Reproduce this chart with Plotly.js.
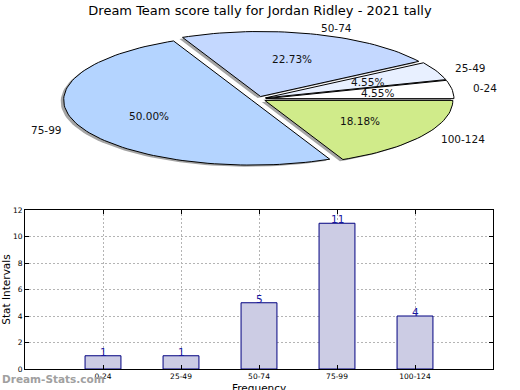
<!DOCTYPE html>
<html>
<head>
<meta charset="utf-8">
<script src="https://cdn.plot.ly/plotly-3.0.1.min.js"></script>
<style>html,body{margin:0;padding:0;background:#fff;}#chart{width:520px;height:390px;}</style>
</head>
<body>
<div id="chart"></div>
<script>
// ---- data ----
const categories = ['0-24', '25-49', '50-74', '75-99', '100-124'];
const counts = [1, 1, 5, 11, 4];
const pieColors = ['#ffffff', '#e8f0ff', '#c4d8ff', '#b4d4ff', '#d0eb8a'];
const yTickVals = [0, 2, 4, 6, 8, 10, 12];

const titleText = 'Dream Team score tally for Jordan Ridley - 2021 tally';
const xTitle = 'Frequency';
const yTitle = 'Stat Intervals';
const font = 'DejaVu Sans, sans-serif';

// ---- pie geometry (layout constants, pixel space of xaxis2/yaxis2) ----
const CX = 258.5, CY = 99, RX = 188, RY = 65, EXPLODE = 0.04;
const SHX = -3, SHY = 1.6;

const total = counts.reduce((a, b) => a + b, 0);
const shadowTraces = [];
const sliceTraces = [];
const annotations = [];
let start = 0;
counts.forEach((v, i) => {
  const frac = v / total;
  const a1 = start * 360, a2 = (start + frac) * 360;
  start += frac;
  const am = (a1 + a2) / 2 * Math.PI / 180;
  const ox = CX + EXPLODE * RX * Math.cos(am);
  const oy = CY - EXPLODE * RY * Math.sin(am);
  const xs = [ox], ys = [oy];
  const n = Math.max(4, Math.ceil((a2 - a1) / 2));
  for (let k = 0; k <= n; k++) {
    const t = (a1 + (a2 - a1) * k / n) * Math.PI / 180;
    xs.push(ox + RX * Math.cos(t));
    ys.push(oy - RY * Math.sin(t));
  }
  xs.push(ox); ys.push(oy);
  shadowTraces.push({
    type: 'scatter', mode: 'lines', xaxis: 'x2', yaxis: 'y2',
    x: xs.map(p => p + SHX), y: ys.map(p => p + SHY),
    fill: 'toself', fillcolor: 'rgba(90,90,90,0.55)',
    line: {width: 0, color: 'rgba(0,0,0,0)'}, hoverinfo: 'skip', showlegend: false
  });
  sliceTraces.push({
    type: 'scatter', mode: 'lines', xaxis: 'x2', yaxis: 'y2',
    x: xs, y: ys, name: categories[i],
    fill: 'toself', fillcolor: pieColors[i],
    line: {width: 1, color: '#000000'}, hoverinfo: 'skip', showlegend: false
  });
  const c = Math.cos(am), s = Math.sin(am);
  annotations.push({
    xref: 'x2', yref: 'y2', x: ox + 1.1 * RX * c, y: oy - 1.1 * RY * s,
    text: categories[i], showarrow: false,
    xanchor: c >= 0 ? 'left' : 'right', yanchor: 'middle',
    font: {family: font, size: 10.5, color: '#111'}
  });
  annotations.push({
    xref: 'x2', yref: 'y2', x: ox + 0.6 * RX * c, y: oy - 0.6 * RY * s,
    text: (frac * 100).toFixed(2) + '%', showarrow: false,
    xanchor: 'center', yanchor: 'middle',
    font: {family: font, size: 10.5, color: '#111'}
  });
});

// bar value labels, sitting directly on top of each bar
categories.forEach((cat, i) => {
  annotations.push({
    xref: 'x', yref: 'y', x: cat, y: counts[i], text: String(counts[i]),
    showarrow: false, xanchor: 'center', yanchor: 'bottom', yshift: -4,
    font: {family: font, size: 10.5, color: '#1818a0'}
  });
});

const bars = {
  type: 'bar', x: categories, y: counts, width: 0.46,
  marker: {color: '#ccccE4', line: {color: '#000080', width: 1}},
  cliponaxis: false, hoverinfo: 'skip', showlegend: false
};

// x-axis title (placed below tick labels, partly clipped by the canvas edge as in the reference)
annotations.push({
  xref: 'paper', yref: 'paper', x: 0.5 * (25 + 493) / 520, y: (390 - 380) / 390,
  xanchor: 'center', yanchor: 'top', text: xTitle, showarrow: false,
  font: {family: font, size: 10.5, color: '#000'}
});

annotations.push({
  xref: 'paper', yref: 'paper', x: 0, y: 11 / 390, xanchor: 'left', yanchor: 'middle',
  text: '<b>Dream-Stats.com</b>', showarrow: false,
  font: {family: font, size: 10.5, color: '#a0a0a0'}
});

const gridDash = '1.5px,2.5px';
const layout = {
  width: 520, height: 390,
  margin: {l: 0, r: 0, t: 0, b: 0},
  paper_bgcolor: '#ffffff', plot_bgcolor: 'rgba(0,0,0,0)',
  font: {family: font, color: '#000'},
  title: {text: titleText, x: 0.5, xanchor: 'center', y: 1 - 10 / 390, yanchor: 'middle',
          yref: 'container', font: {family: font, size: 13, color: '#000'}},
  xaxis: {
    domain: [25 / 520, 493 / 520], anchor: 'y', type: 'category',
    categoryorder: 'array', categoryarray: categories, range: [-1, 5],
    showline: true, linecolor: '#000', linewidth: 1, mirror: 'ticks',
    ticks: 'inside', ticklen: 4, tickcolor: '#000',
    showgrid: true, gridcolor: '#b4b4b4', griddash: gridDash, gridwidth: 1,
    tickfont: {family: font, size: 7.5, color: '#000'},
    automargin: false, zeroline: false, fixedrange: true
  },
  yaxis: {
    domain: [(390 - 369) / 390, (390 - 210) / 390], anchor: 'x',
    range: [0, 12], tickvals: yTickVals,
    showline: true, linecolor: '#000', linewidth: 1, mirror: 'ticks',
    ticks: 'inside', ticklen: 4, tickcolor: '#000',
    showgrid: true, gridcolor: '#b4b4b4', griddash: gridDash, gridwidth: 1,
    tickfont: {family: font, size: 7.5, color: '#000'},
    title: {text: yTitle, standoff: 6, font: {family: font, size: 10.5, color: '#000'}},
    automargin: false, zeroline: false, fixedrange: true
  },
  xaxis2: {domain: [0, 1], range: [0, 520], anchor: 'y2', visible: false, fixedrange: true},
  yaxis2: {domain: [0, 1], range: [390, 0], anchor: 'x2', visible: false, fixedrange: true},
  annotations: annotations,
  showlegend: false
};

Plotly.newPlot('chart', [bars].concat(shadowTraces, sliceTraces), layout, {displayModeBar: false, staticPlot: true});
</script>
</body>
</html>
